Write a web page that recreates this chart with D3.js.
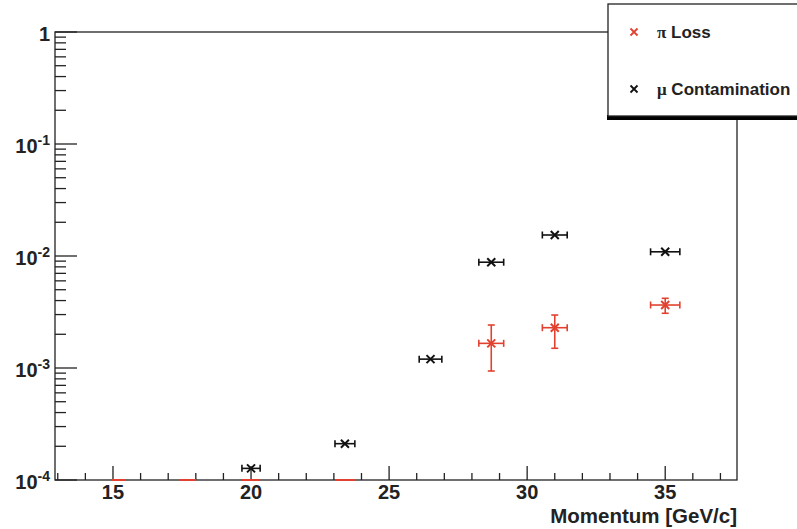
<!DOCTYPE html>
<html>
<head>
<meta charset="utf-8">
<script src="https://cdn.jsdelivr.net/npm/d3@7"></script>
<style>
  html, body { margin: 0; padding: 0; background: #fff; }
  svg { display: block; }
  text { font-family: "Liberation Sans", Arial, Helvetica, sans-serif; }
</style>
</head>
<body>
<svg id="chart" width="797" height="529"></svg>
<script>
// ---- data ----
const momentum      = [15.2, 17.7, 20.0, 23.4, 26.5, 28.7, 31.0, 35.0];
const momentumErr   = [0.24, 0.31, 0.33, 0.36, 0.41, 0.45, 0.45, 0.53];
const muContamination = [null, null, 1.27e-4, 2.11e-4, 1.20e-3, 8.8e-3, 1.54e-2, 1.09e-2];
const piLoss        = [0, 0, 0, 0, null, 1.66e-3, 2.29e-3, 3.65e-3];
const piLossErrLow  = [0, 0, 0, 0, null, 0.72e-3, 0.79e-3, 0.57e-3];
const piLossErrHigh = [0, 0, 0, 0, null, 0.76e-3, 0.68e-3, 0.54e-3];
const xTickValues   = [15, 20, 25, 30, 35];
const yTickValues   = [1e-4, 1e-3, 1e-2, 1e-1, 1];
const yTickLabels   = [["10", "-4"], ["10", "-3"], ["10", "-2"], ["10", "-1"], ["1", ""]];
const legendLabels  = [["\u03c0", " Loss"], ["\u03bc", " Contamination"]];
const xTitle = "Momentum [GeV/c]";

const RED = "#e2412f", BLACK = "#111";

const svg = d3.select("#chart");
const L = 55, R = 737, T = 32, B = 480;

const x = d3.scaleLinear().domain([12.9, 37.6]).range([L, R]);
const y = d3.scaleLog().domain([1e-4, 1]).range([B, T]);

svg.append("defs").append("clipPath").attr("id", "clip")
  .append("rect").attr("x", L).attr("y", T).attr("width", R - L).attr("height", B - T + 2);

// frame
svg.append("rect").attr("x", L).attr("y", T).attr("width", R - L).attr("height", B - T)
  .attr("fill", "none").attr("stroke", "#222").attr("stroke-width", 1.3);

// x ticks (inside, upward)
const xMinor = d3.range(13, 38, 1).filter(v => v % 5 !== 0);
const xAxis = svg.append("g");
xAxis.selectAll("line.minor").data(xMinor).join("line")
  .attr("x1", d => x(d)).attr("x2", d => x(d)).attr("y1", B).attr("y2", B - 7)
  .attr("stroke", "#222").attr("stroke-width", 1.3);
xAxis.selectAll("line.major").data(xTickValues).join("line")
  .attr("x1", d => x(d)).attr("x2", d => x(d)).attr("y1", B).attr("y2", B - 14)
  .attr("stroke", "#222").attr("stroke-width", 1.3);
xAxis.selectAll("text").data(xTickValues).join("text")
  .attr("x", d => x(d)).attr("y", B + 19).attr("text-anchor", "middle")
  .attr("font-size", 20).attr("font-weight", "bold").attr("fill", "#222")
  .text(d => d);

// y ticks (inside, rightward)
const yMinor = [];
for (let e = -4; e < 0; e++) for (let m = 2; m <= 9; m++) yMinor.push(m * Math.pow(10, e));
const yAxis = svg.append("g");
yAxis.selectAll("line.minor").data(yMinor).join("line")
  .attr("x1", L).attr("x2", L + 11).attr("y1", d => y(d)).attr("y2", d => y(d))
  .attr("stroke", "#222").attr("stroke-width", 1.3);
yAxis.selectAll("line.major").data(yTickValues).join("line")
  .attr("x1", L).attr("x2", L + 22).attr("y1", d => y(d)).attr("y2", d => y(d))
  .attr("stroke", "#222").attr("stroke-width", 1.3);
const yl = yAxis.selectAll("text").data(yTickValues).join("text")
  .attr("x", 50).attr("y", d => y(d) + 9).attr("text-anchor", "end")
  .attr("font-size", 20).attr("font-weight", "bold").attr("fill", "#222");
yl.append("tspan").text((d, i) => yTickLabels[i][0]);
yl.append("tspan").attr("dy", -8).attr("font-size", 14).text((d, i) => yTickLabels[i][1]);

// x title
svg.append("text").attr("x", R).attr("y", 523).attr("text-anchor", "end")
  .attr("font-size", 20.5).attr("font-weight", "bold").attr("fill", "#222").text(xTitle);

// ---- data marks ----
const plot = svg.append("g").attr("clip-path", "url(#clip)");

function drawSeries(vals, lo, hi, color) {
  const pts = momentum.map((m, i) => ({ m, e: momentumErr[i], v: vals[i],
    lo: lo ? lo[i] : 0, hi: hi ? hi[i] : 0 })).filter(d => d.v !== null);
  const g = plot.append("g").attr("stroke", color).attr("stroke-width", 1.6).attr("fill", "none");
  pts.forEach(d => {
    const zero = d.v <= 0;
    const cy = zero ? B : y(d.v);
    const x0 = x(d.m - d.e), x1 = x(d.m + d.e), cx = x(d.m);
    g.append("line").attr("x1", x0).attr("x2", x1).attr("y1", cy).attr("y2", cy)
      .attr("stroke-width", zero ? 2 : 1.6);
    if (zero) return;
    g.append("line").attr("x1", x0).attr("x2", x0).attr("y1", cy - 3.5).attr("y2", cy + 3.5);
    g.append("line").attr("x1", x1).attr("x2", x1).attr("y1", cy - 3.5).attr("y2", cy + 3.5);
    if (d.lo > 0 || d.hi > 0) {
      const yt = y(d.v + d.hi), yb = y(d.v - d.lo);
      g.append("line").attr("x1", cx).attr("x2", cx).attr("y1", yt).attr("y2", yb);
      g.append("line").attr("x1", cx - 3.5).attr("x2", cx + 3.5).attr("y1", yt).attr("y2", yt);
      g.append("line").attr("x1", cx - 3.5).attr("x2", cx + 3.5).attr("y1", yb).attr("y2", yb);
    }
    const s = 4;
    g.append("path").attr("stroke-width", 2)
      .attr("d", `M${cx - s},${cy - s}L${cx + s},${cy + s}M${cx - s},${cy + s}L${cx + s},${cy - s}`);
  });
}
drawSeries(piLoss, piLossErrLow, piLossErrHigh, RED);
drawSeries(muContamination, null, null, BLACK);

// ---- legend ----
const lg = svg.append("g");
lg.append("rect").attr("x", 607).attr("y", 115).attr("width", 200).attr("height", 5).attr("fill", "#000");
lg.append("rect").attr("x", 608).attr("y", 4).attr("width", 200).attr("height", 112)
  .attr("fill", "#fff").attr("stroke", "#222").attr("stroke-width", 1.3);
const legColors = [RED, BLACK];
const legY = [32, 89];
legendLabels.forEach((lab, i) => {
  const cx = 634, cy = legY[i], s = 3.5;
  lg.append("path").attr("stroke", legColors[i]).attr("stroke-width", 1.8)
    .attr("d", `M${cx - s},${cy - s}L${cx + s},${cy + s}M${cx - s},${cy + s}L${cx + s},${cy - s}`);
  const t = lg.append("text").attr("x", 657).attr("y", cy + 6)
    .attr("font-size", 17).attr("font-weight", "bold").attr("fill", "#222");
  t.append("tspan").attr("font-family", "'Liberation Serif', 'Times New Roman', serif").text(lab[0]);
  t.append("tspan").text(lab[1]);
});
</script>
</body>
</html>
